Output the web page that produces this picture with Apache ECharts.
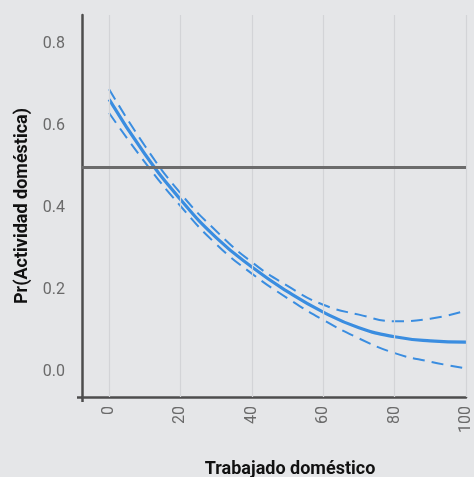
<!DOCTYPE html>
<html>
<head>
<meta charset="utf-8">
<script src="https://cdn.jsdelivr.net/npm/echarts@6/dist/echarts.min.js"></script>
<style>
  html, body { margin: 0; padding: 0; background: #e5e6e8; }
  #chart { width: 474px; height: 477px; }
</style>
</head>
<body>
<div id="chart"></div>
<script>
// Predicted probability of domestic activity against hours of domestic work
const hours = [0, 10, 20, 30, 40, 50, 60, 70, 80, 90, 100];
const prob = [0.665, 0.532, 0.421, 0.328, 0.256, 0.196, 0.146, 0.108, 0.086, 0.076, 0.073];
const probUpper = [0.690, 0.552, 0.436, 0.344, 0.268, 0.210, 0.164, 0.140, 0.124, 0.130, 0.150];
const probLower = [0.632, 0.512, 0.405, 0.312, 0.240, 0.180, 0.127, 0.082, 0.046, 0.025, 0.009];
const xTicks = [0, 20, 40, 60, 80, 100];
const yTicks = [0, 0.2, 0.4, 0.6, 0.8];
const threshold = 0.5;

const xMin = -7.6, xMax = 100;
const yMin = -0.061, yMax = 0.871;

const FONT = "Roboto, 'Liberation Sans', sans-serif";
const BLUE = '#3a8de0';
const AXIS = '#4d4d4d';

const pairs = (ys) => hours.map((h, i) => [h, ys[i]]);

const chart = echarts.init(document.getElementById('chart'), null, { renderer: 'canvas' });
chart.setOption({
  backgroundColor: '#e5e6e8',
  animation: false,
  title: {
    text: 'Trabajado doméstico',
    left: 285,
    top: 455,
    textAlign: 'center',
    textStyle: { fontFamily: FONT, fontSize: 18, fontWeight: 'bold', color: '#111' }
  },
  grid: { left: 82, right: 2.5, top: 15, bottom: 80, containLabel: false },
  xAxis: {
    type: 'value', min: xMin, max: xMax,
    axisLine: { show: true, onZero: false, lineStyle: { color: AXIS, width: 2.5 } },
    axisTick: { show: true, customValues: [xMin], length: 5, lineStyle: { color: AXIS, width: 2.5 } },
    splitLine: { show: false },
    axisLabel: {
      customValues: xTicks, rotate: 90, margin: 9,
      fontFamily: FONT, fontSize: 16, color: '#6a6a6a',
      formatter: (v) => String(v)
    }
  },
  yAxis: {
    type: 'value', min: yMin, max: yMax,
    name: 'Pr(Actividad doméstica)', nameLocation: 'middle', nameGap: 50,
    nameTextStyle: { fontFamily: FONT, fontSize: 18, fontWeight: 'bold', color: '#111' },
    axisLine: { show: true, onZero: false, lineStyle: { color: AXIS, width: 2.5 } },
    axisTick: { show: true, customValues: [yMin], length: 5, lineStyle: { color: AXIS, width: 2.5 } },
    splitLine: { show: false },
    axisLabel: {
      customValues: yTicks, margin: 17,
      fontFamily: FONT, fontSize: 16, color: '#6a6a6a',
      formatter: (v) => v.toFixed(1)
    }
  },
  series: [
    {
      // vertical grid lines and the 0.5 reference line
      type: 'line', data: [], z: 1, silent: true,
      markLine: {
        silent: true, symbol: 'none', label: { show: false },
        data: xTicks.map((t) => ({ xAxis: t, lineStyle: { color: '#d3d4d7', width: 1.2, type: 'solid' } }))
          .concat([{ yAxis: threshold, lineStyle: { color: '#6b6b6b', width: 3, type: 'solid' } }])
      }
    },
    {
      type: 'line', data: pairs(probUpper), smooth: true, showSymbol: false, z: 3,
      lineStyle: { color: BLUE, width: 2, type: [12, 7] }
    },
    {
      type: 'line', data: pairs(probLower), smooth: true, showSymbol: false, z: 3,
      lineStyle: { color: BLUE, width: 2, type: [12, 7] }
    },
    {
      type: 'line', data: pairs(prob), smooth: true, showSymbol: false, z: 4,
      lineStyle: { color: BLUE, width: 3.2 }
    }
  ]
});
</script>
</body>
</html>
